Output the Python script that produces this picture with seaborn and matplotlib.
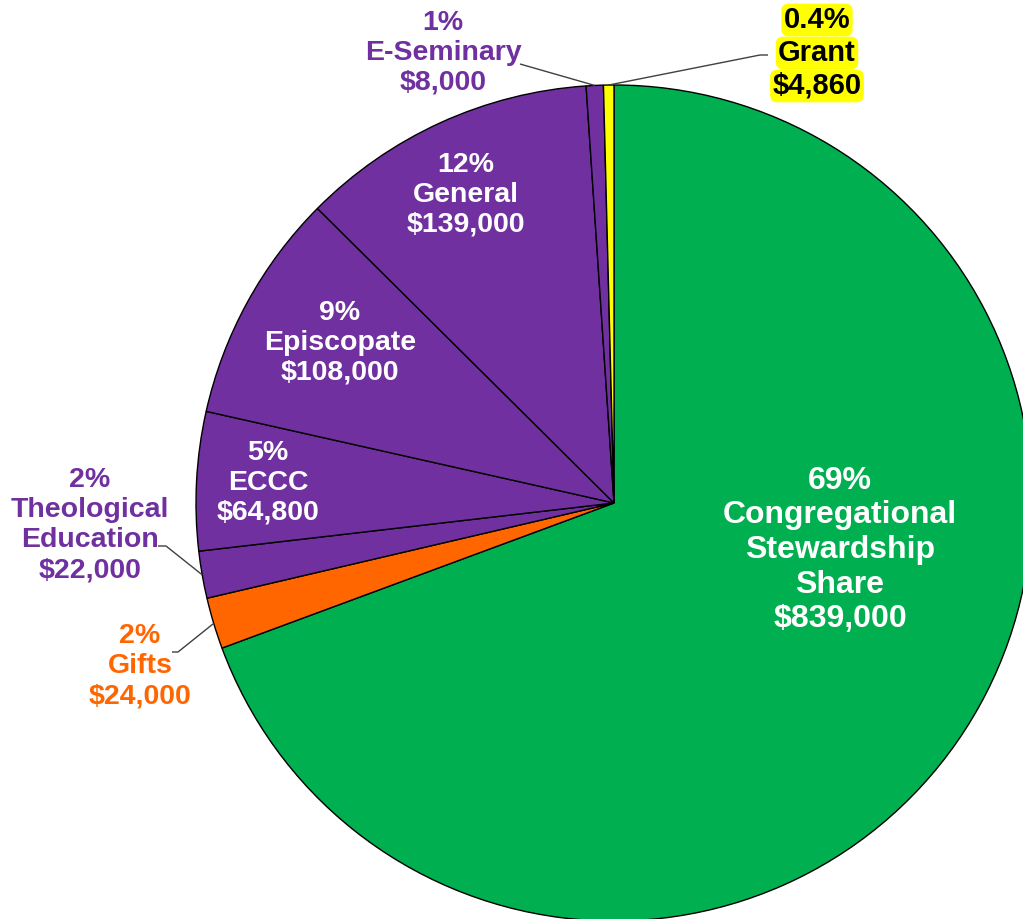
import numpy as np
import matplotlib
matplotlib.use("Agg")
import matplotlib.pyplot as plt
import seaborn as sns

# ---- data ----
categories = ["Congregational\nStewardship\nShare", "Gifts", "Theological\nEducation",
              "ECCC", "Episcopate", "General", "E-Seminary", "Grant"]
values = [839000, 24000, 22000, 64800, 108000, 139000, 8000, 4860]
pct_labels = ["69%", "2%", "2%", "5%", "9%", "12%", "1%", "0.4%"]
colors = ["#00B050", "#FF6600", "#7030A0", "#7030A0", "#7030A0", "#7030A0", "#7030A0", "#FFFF00"]

sns.set_theme(style="white")
plt.rcParams["font.family"] = ["Liberation Sans", "DejaVu Sans"]

fig = plt.figure(figsize=(10.23, 9.19), dpi=100)
ax = fig.add_axes([0, 0, 1, 1])
ax.set_axis_off()

wedges, _ = ax.pie(values, colors=colors, startangle=90, counterclock=False,
                   radius=1.0, center=(0, 0),
                   wedgeprops=dict(edgecolor="black", linewidth=1.0))

# map pixel layout: centre (614,503), radius 418 px
S = 418.0
ax.set_aspect("equal", adjustable="datalim")
ax.set_xlim(-614 / S, (1023 - 614) / S)
ax.set_ylim(-(919 - 503) / S, 503 / S)


def px(x, y):
    return ((x - 614) / S, (503 - y) / S)


def label_text(i):
    return f"{pct_labels[i]}\n{categories[i]}\n${values[i]:,}"


# layout (pixel centres of label blocks)
inner = {0: (840, 550, 23), 3: (268, 483, 20.5), 4: (340, 343, 20.5), 5: (466, 195, 20.5)}
for i, (x, y, fs) in inner.items():
    ax.text(*px(x, y), label_text(i), ha="center", va="center", color="white",
            fontsize=fs, fontweight="bold", linespacing=1.2)

outer = {2: (90, 525, "#7030A0"), 1: (140, 666, "#FF6600"), 6: (443, 53, "#7030A0")}
for i, (x, y, c) in outer.items():
    ax.text(*px(x, y), label_text(i), ha="center", va="center", color=c,
            fontsize=20.5, fontweight="bold", linespacing=1.2)

# Grant: each line highlighted in yellow
gi = 7
for line, y in zip([pct_labels[gi], categories[gi], f"${values[gi]:,}"], [20, 53, 86]):
    ax.text(*px(817, y), line, ha="center", va="center", color="black",
            fontsize=21, fontweight="bold",
            bbox=dict(boxstyle="round,pad=0.08,rounding_size=0.25", fc="#FFFF00", ec="none"))


# leader lines from wedge mid-angle
def wedge_point(w, r=1.0):
    ang = np.deg2rad((w.theta1 + w.theta2) / 2)
    return r * np.cos(ang), r * np.sin(ang)


leaders = {
    2: [px(158, 546), px(166, 546)],
    1: [px(172, 652), px(178, 652)],
    6: [px(520, 64)],
    7: [px(768, 55), px(760, 55)],
}
for i, pts in leaders.items():
    wp = wedge_point(wedges[i])
    xs = [p[0] for p in pts] + [wp[0]]
    ys = [p[1] for p in pts] + [wp[1]]
    ax.plot(xs, ys, color="#404040", lw=1.0, solid_capstyle="butt")

fig.savefig("out.png", dpi=100, facecolor="white")
